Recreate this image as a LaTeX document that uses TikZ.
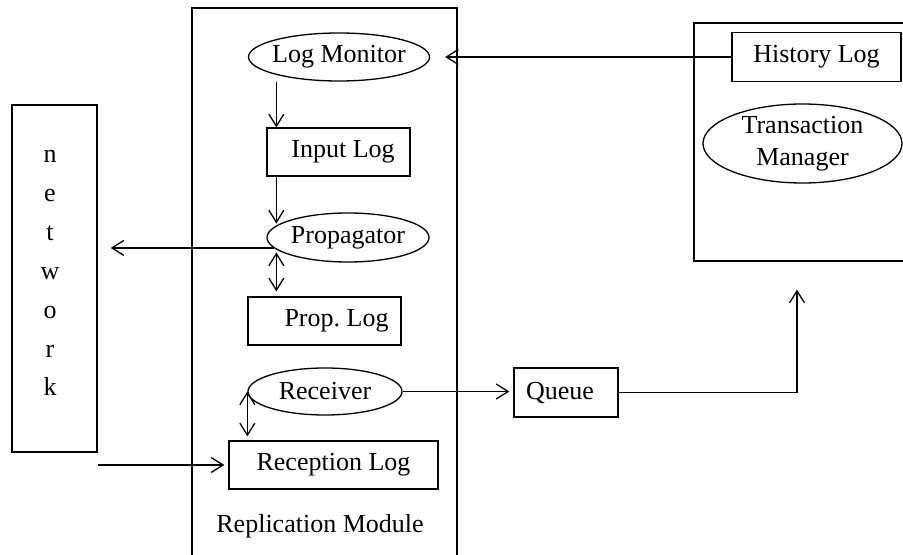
\documentclass[tikz,border=0pt]{standalone}
\usepackage{fontspec}
\setmainfont{Liberation Serif}
\usetikzlibrary{arrows.meta,shapes.geometric}

\begin{document}
\begin{tikzpicture}[x=.5pt,y=-.5pt,line width=.65pt,
  font=\fontsize{13}{16}\selectfont,
  >={Straight Barb[length=6pt,width=7.5pt]},
  box/.style={draw,rectangle,inner sep=0pt},
  oval/.style={draw,ellipse,inner sep=0pt}]
  \useasboundingbox (0,0) rectangle (903,555);
  \clip (0,0) rectangle (903,555);
  % containers
  \node[box,minimum width=132.5pt,minimum height=296pt] (rm) at (324.5,304) {};
  \node[box,minimum width=128pt,minimum height=119pt] (tmbox) at (822,142) {};
  \node[box,minimum width=42.5pt,minimum height=173.5pt] (net) at (54.5,278.5) {};
  \foreach \ch [count=\i from 0] in {n,e,t,w,o,r,k}
    \node[anchor=base] (net\i) at (50,163+38.8*\i) {\ch};
  \node[anchor=base] (rmlabel) at (320,532) {Replication Module};
  % replication module
  \node[oval,inner xsep=-1.5pt,minimum width=90.5pt,minimum height=24pt] (lm) at (339,57) {Log Monitor};
  \node[box,minimum width=71.5pt,minimum height=24pt] (inlog) at (338.5,152) {\hspace*{4.5pt}Input Log};
  \node[oval,minimum width=81pt,minimum height=24.5pt] (prop) at (348,237.5) {Propagator};
  \node[box,minimum width=76.5pt,minimum height=24pt] (proplog) at (324.5,321) {\hspace*{12pt}Prop.\ Log};
  \node[oval,minimum width=77pt,minimum height=23.5pt] (rec) at (325,391.5) {Receiver};
  \node[box,minimum width=104.5pt,minimum height=24pt] (reclog) at (333.5,465) {Reception Log};
  \node[box,minimum width=52pt,minimum height=24.5pt] (queue) at (566,392.5) {Queue\hspace*{6pt}};
  % transaction side
  \node[box,minimum width=84.5pt,minimum height=24.5pt] (hist) at (816.5,57) {History Log};
  \node[oval,minimum width=99.5pt,minimum height=39.5pt,align=center] (tm) at (802.5,143.5) {Transaction\\Manager};
  % connectors
  \coordinate (c1) at ([xshift=5pt]inlog.north west);
  \coordinate (c2) at ([xshift=5pt]inlog.south west);
  \coordinate (c3) at ([xshift=14.5pt]proplog.north west);
  \coordinate (tmin) at ([xshift=-12.5pt,yshift=-14pt]tmbox.south);
  \draw[->,shorten >=7.5pt] (hist.west) -- (lm.east);
  \draw[->] (c1 |- lm.south) -- (c1);
  \draw[->,shorten >=7pt] (c2) -- (c2 |- prop.center);
  \draw[<->,shorten <=7.5pt,shorten >=2.5pt] (c3 |- prop.center) -- (c3);
  \draw[->,shorten >=6.5pt] (prop.188) -- (prop.188 -| net.east);
  \draw[<->,shorten >=2pt] (rec.west) -- (rec.west |- reclog.north);
  \draw[->,shorten >=2pt] (net.east |- reclog.west) -- (reclog.west);
  \draw[->,shorten >=2pt] (rec.east) -- (rec.east -| queue.west);
  \draw[->] (queue.east) -| (tmin);
\end{tikzpicture}
\end{document}
